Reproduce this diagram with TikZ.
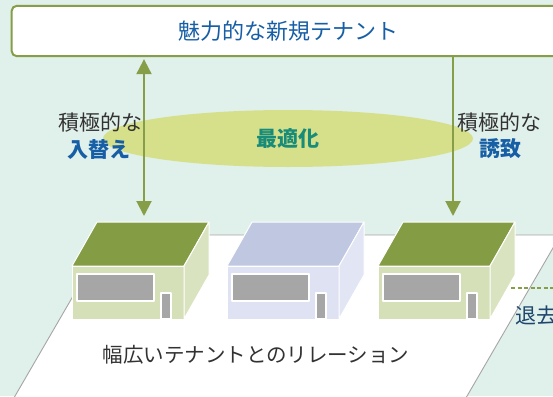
\documentclass[tikz,border=0pt]{standalone}
\usepackage{fontspec}
\setmainfont{Noto Sans CJK JP}
\usetikzlibrary{arrows.meta,shapes.geometric}

\definecolor{mint}{RGB}{224,240,234}
\definecolor{leaf}{RGB}{134,158,72}
\definecolor{roofgreen}{RGB}{132,156,68}
\definecolor{wallgreen}{RGB}{214,224,184}
\definecolor{roofblue}{RGB}{192,200,225}
\definecolor{wallblue}{RGB}{222,226,243}
\definecolor{pane}{RGB}{166,166,166}
\definecolor{blob}{RGB}{214,224,138}
\definecolor{fitteal}{RGB}{24,140,120}
\definecolor{deepblue}{RGB}{22,94,165}
\definecolor{navyink}{RGB}{30,70,110}
\definecolor{ink}{RGB}{50,50,50}
\definecolor{edgegray}{RGB}{165,165,165}

\tikzset{
  plain/.style={font=\fontsize{21}{21}\selectfont, text=ink, inner sep=0pt},
  accent/.style={plain, font=\fontsize{21}{21}\selectfont\bfseries, text=deepblue},
  link/.style={draw=leaf, line width=2pt},
  house/.style={draw=white, line width=1pt, line join=round},
}

\begin{document}
\begin{tikzpicture}[x=1pt,y=-1pt,>={Triangle[length=15pt,width=15pt]}]
\useasboundingbox (0,0) rectangle (553,396);
\clip (0,0) rectangle (553,396);
\fill[mint] (0,0) rectangle (553,396);

% ground plate
\draw[fill=white, draw=edgegray, line width=0.9pt]
  (10.4,404) -- (462.4,404) -- (560.5,235) -- (108.5,235) -- cycle;

% shops
\foreach \fx/\rf/\wl in {72/roofgreen/wallgreen, 227/roofblue/wallblue, 378/roofgreen/wallgreen} {
  \begin{scope}[shift={(\fx,0)}]
    \draw[house, fill=\rf] (0,266) -- (112,266) -- (137,222) -- (25,222) -- cycle;
    \draw[house, fill=\wl] (0,266) rectangle (112,319);
    \draw[house, fill=\wl!90!white] (112,266) -- (137,222) -- (137,275) -- (112,319) -- cycle;
    \draw[house, line width=1.3pt, fill=pane] (5,274) rectangle (82,301);
    \draw[house, line width=1.3pt, fill=pane] (89,293) rectangle (99,319);
  \end{scope}
}

\node[draw=leaf, line width=2pt, rounded corners=5pt, fill=white,
      minimum width=552.6pt, minimum height=50.3pt, inner sep=0pt,
      font=\fontsize{22}{22}\selectfont, text=deepblue] (top) at (288,31) {魅力的な新規テナント};

\node[ellipse, fill=blob, minimum width=370pt, minimum height=57pt, inner sep=0pt,
      font=\fontsize{21}{21}\selectfont\bfseries, text=fitteal] (fit) at (288,138.5) {最適化};

\coordinate (in) at (144,216);
\coordinate (out) at (453,216);
\draw[link, <->, shorten <=2pt] (top.south -| in) -- (in);
\draw[link, ->] (top.south -| out) -- (out);

\node[plain] (pushl) at (100,123) {積極的な};
\node[accent] (swap) at (99,149) {入替え};
\node[plain] (pushr) at (499,123) {積極的な};
\node[accent] (invite) at (500,149) {誘致};

\node[plain, font=\fontsize{20.5}{20.5}\selectfont] (ties) at (256,355) {幅広いテナントとのリレーション};

\coordinate (side) at (511,288);
\coordinate (gone) at (560,288);
\draw[leaf, line width=1.5pt, dash pattern=on 4pt off 2.5pt] (side) -- (gone);
\node[plain, text=navyink, anchor=west] (leave) at (515,316) {退去};
\end{tikzpicture}
\end{document}
